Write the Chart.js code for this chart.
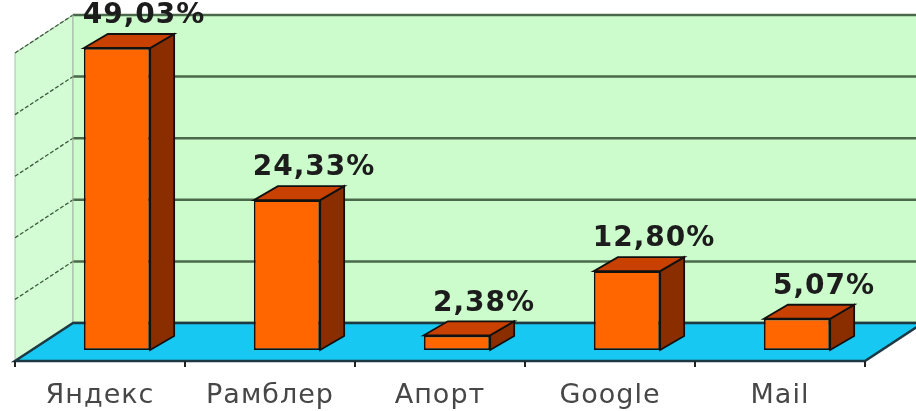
<!DOCTYPE html>
<html>
<head>
<meta charset="utf-8">
<script src="https://cdn.jsdelivr.net/npm/chart.js@4/dist/chart.umd.min.js"></script>
<style>
  html, body { margin: 0; padding: 0; background: #fff; }
  canvas { display: block; }
</style>
</head>
<body>
<canvas id="grafica" width="916" height="411"></canvas>
<script>
const categorias = ['Яндекс', 'Рамблер', 'Апорт', 'Google', 'Mail'];
const valores = [49.03, 24.33, 2.38, 12.80, 5.07];
const lineasY = [0, 10, 20, 30, 40, 50];

// desplazamientos del efecto 3D (respecto al plano frontal de las barras)
const PROF_X = 24, PROF_Y = -14;     // fondo de cada barra
const FRENTE_X = -17, FRENTE_Y = 11; // borde delantero del suelo
const FONDO_X = 41, FONDO_Y = -27;   // pared del fondo

function poligono(ctx, pts, relleno, borde, grosor) {
    ctx.beginPath();
    ctx.moveTo(pts[0][0], pts[0][1]);
    for (let i = 1; i < pts.length; i++) ctx.lineTo(pts[i][0], pts[i][1]);
    ctx.closePath();
    if (relleno) { ctx.fillStyle = relleno; ctx.fill(); }
    if (borde) { ctx.strokeStyle = borde; ctx.lineWidth = grosor || 1; ctx.stroke(); }
}

const escena3d = {
    id: 'escena3d',
    beforeDatasetsDraw(chart) {
        const ctx = chart.ctx;
        const a = chart.chartArea;
        const y = chart.scales.y;
        const y0 = y.getPixelForValue(0);
        const yTop = y.getPixelForValue(50);
        ctx.save();

        // pared izquierda
        poligono(ctx, [
            [a.left + FRENTE_X, y0 + FRENTE_Y],
            [a.left + FRENTE_X, yTop + FRENTE_Y],
            [a.left + FONDO_X, yTop + FONDO_Y],
            [a.left + FONDO_X, y0 + FONDO_Y]
        ], '#d4fcd4', '#a8c0a8', 1);

        // pared del fondo
        poligono(ctx, [
            [a.left + FONDO_X, yTop + FONDO_Y],
            [a.right + FONDO_X, yTop + FONDO_Y],
            [a.right + FONDO_X, y0 + FONDO_Y],
            [a.left + FONDO_X, y0 + FONDO_Y]
        ], '#ccfccc', null);

        // líneas de la cuadrícula
        lineasY.forEach(v => {
            const py = y.getPixelForValue(v);
            ctx.setLineDash([]);
            ctx.strokeStyle = '#4a684a';
            ctx.lineWidth = 2.5;
            ctx.beginPath();
            ctx.moveTo(a.left + FONDO_X, py + FONDO_Y);
            ctx.lineTo(a.right + FONDO_X, py + FONDO_Y);
            ctx.stroke();

            ctx.setLineDash([4, 2]);
            ctx.strokeStyle = '#3a5a3a';
            ctx.lineWidth = 1.3;
            ctx.beginPath();
            ctx.moveTo(a.left + FRENTE_X, py + FRENTE_Y);
            ctx.lineTo(a.left + FONDO_X, py + FONDO_Y);
            ctx.stroke();
        });
        ctx.setLineDash([]);

        ctx.strokeStyle = '#9fb59f';
        ctx.lineWidth = 1;
        ctx.beginPath();
        ctx.moveTo(a.left + FONDO_X, yTop + FONDO_Y);
        ctx.lineTo(a.left + FONDO_X, y0 + FONDO_Y);
        ctx.stroke();

        // suelo
        poligono(ctx, [
            [a.left + FRENTE_X, y0 + FRENTE_Y],
            [a.right + FRENTE_X, y0 + FRENTE_Y],
            [a.right + FONDO_X, y0 + FONDO_Y],
            [a.left + FONDO_X, y0 + FONDO_Y]
        ], '#17c8f2', '#1d3a44', 2.5);

        // marcas del eje X
        const anchoCat = (a.right - a.left) / categorias.length;
        ctx.strokeStyle = '#222';
        ctx.lineWidth = 2;
        for (let i = 0; i <= categorias.length; i++) {
            const px = a.left + FRENTE_X + i * anchoCat;
            ctx.beginPath();
            ctx.moveTo(px, y0 + FRENTE_Y);
            ctx.lineTo(px, y0 + FRENTE_Y + 6);
            ctx.stroke();
        }
        ctx.restore();
    },
    afterDatasetsDraw(chart) {
        const ctx = chart.ctx;
        const meta = chart.getDatasetMeta(0);
        ctx.save();
        meta.data.forEach((barra, i) => {
            const p = barra.getProps(['x', 'y', 'base', 'width'], true);
            const izq = p.x - p.width / 2;
            const der = p.x + p.width / 2;
            // lateral
            poligono(ctx, [
                [der, p.y],
                [der + PROF_X, p.y + PROF_Y],
                [der + PROF_X, p.base + PROF_Y],
                [der, p.base]
            ], '#8a2e00', '#111', 1.8);
            // tapa
            poligono(ctx, [
                [izq, p.y],
                [der, p.y],
                [der + PROF_X, p.y + PROF_Y],
                [izq + PROF_X, p.y + PROF_Y]
            ], '#c94100', '#111', 1.8);

            // etiqueta de valor
            ctx.fillStyle = '#1c1c1c';
            ctx.font = 'bold 28px "DejaVu Sans"';
            ctx.letterSpacing = '1px';
            ctx.textAlign = 'center';
            ctx.textBaseline = 'middle';
            const texto = valores[i].toFixed(2).replace('.', ',') + '%';
            ctx.fillText(texto, p.x + 27, p.y + PROF_Y - 18);
        });

        // etiquetas de categoría
        const y0 = chart.scales.y.getPixelForValue(0);
        ctx.fillStyle = '#474747';
        ctx.font = '27px "DejaVu Sans"';
        ctx.letterSpacing = '1px';
        ctx.textAlign = 'center';
        ctx.textBaseline = 'middle';
        categorias.forEach((c, i) => {
            const px = chart.scales.x.getPixelForValue(i) + FRENTE_X;
            ctx.fillText(c, px, y0 + 46);
        });
        ctx.restore();
    }
};

new Chart(document.getElementById('grafica'), {
    type: 'bar',
    data: {
        labels: categorias,
        datasets: [{
            data: valores,
            backgroundColor: '#ff6600',
            borderColor: '#111',
            borderWidth: 1.8,
            borderSkipped: false,
            categoryPercentage: 1,
            barPercentage: 0.39
        }]
    },
    options: {
        responsive: false,
        devicePixelRatio: 1,
        animation: false,
        layout: { padding: { left: 32, right: 34, top: 42, bottom: 61 } },
        plugins: { legend: { display: false }, tooltip: { enabled: false } },
        scales: {
            x: { display: false },
            y: { display: false, min: 0, max: 50 }
        }
    },
    plugins: [escena3d]
});
</script>
</body>
</html>
